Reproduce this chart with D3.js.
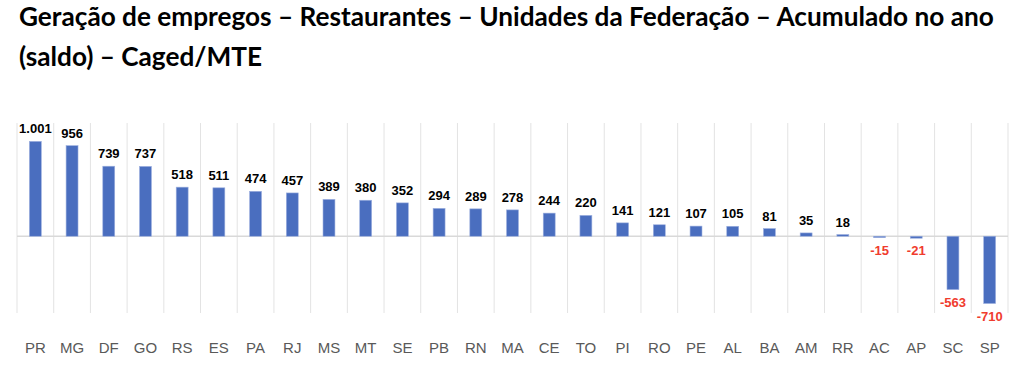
<!DOCTYPE html>
<html><head><meta charset="utf-8">
<script src="https://cdn.jsdelivr.net/npm/d3@7"></script>
<style>body{margin:0;background:#fff}svg{display:block}</style>
</head><body>
<svg id="c" width="1024" height="374"></svg>
<script>
const categories = ["PR","MG","DF","GO","RS","ES","PA","RJ","MS","MT","SE","PB","RN","MA","CE","TO","PI","RO","PE","AL","BA","AM","RR","AC","AP","SC","SP"];
const values = [1001,956,739,737,518,511,474,457,389,380,352,294,289,278,244,220,141,121,107,105,81,35,18,-15,-21,-563,-710];
const titleLines = ["Geração de empregos – Restaurantes – Unidades da Federação – Acumulado no ano","(saldo) – Caged/MTE"];

const svg = d3.select("#c");
const pLeft = 17, pRight = 1008, pTop = 123, pBottom = 313;
const x = d3.scaleBand().domain(categories).range([pLeft, pRight]).paddingInner(0.675).paddingOuter(0.3375);
const y = d3.scaleLinear().domain([-810, 1195]).range([pBottom, pTop]);
const step = x.step();

// title
svg.selectAll("text.title").data(titleLines).join("text")
  .attr("class","title").attr("x",19).attr("y",(d,i)=>26+i*40)
  .attr("font-family","Lato, 'Open Sans', sans-serif").attr("font-weight",700)
  .attr("font-size",26.2).attr("fill","#000").text(d=>d);

// vertical gridlines
const gx = d3.range(categories.length+1).map(i=>pLeft+i*step);
svg.selectAll("line.vg").data(gx).join("line").attr("class","vg")
  .attr("x1",d=>d).attr("x2",d=>d).attr("y1",pTop).attr("y2",pBottom)
  .attr("stroke","#e3e3e3").attr("stroke-width",1);

// zero line
svg.append("line").attr("x1",pLeft).attr("x2",pRight).attr("y1",y(0)).attr("y2",y(0))
  .attr("stroke","#d9d9d9").attr("stroke-width",1.5);

// bars
svg.selectAll("rect.bar").data(values).join("rect").attr("class","bar")
  .attr("x",(d,i)=>x(categories[i])).attr("width",x.bandwidth())
  .attr("y",d=>y(Math.max(0,d))).attr("height",d=>Math.max(1,Math.abs(y(d)-y(0))))
  .attr("fill","#4a6ebf").attr("stroke","#9db0df").attr("stroke-width",0.6);

// value labels
const fmt = d3.formatLocale({decimal:",",thousands:".",grouping:[3],currency:["",""],minus:"-"}).format(",d");
svg.selectAll("text.val").data(values).join("text").attr("class","val")
  .attr("x",(d,i)=>x(categories[i])+x.bandwidth()/2)
  .attr("y",d=>d>=0 ? y(d)-8 : y(d)+17)
  .attr("text-anchor","middle").attr("font-family","'Liberation Sans', Arial, sans-serif")
  .attr("font-weight",700).attr("font-size",13)
  .attr("fill",d=>d>=0?"#000":"#f03c2e").text(d=>fmt(d));

// axis labels
svg.selectAll("text.cat").data(categories).join("text").attr("class","cat")
  .attr("x",d=>x(d)+x.bandwidth()/2).attr("y",353)
  .attr("text-anchor","middle").attr("font-family","'Liberation Sans', Arial, sans-serif")
  .attr("font-size",15).attr("fill","#595959").text(d=>d);
</script>
</body></html>
